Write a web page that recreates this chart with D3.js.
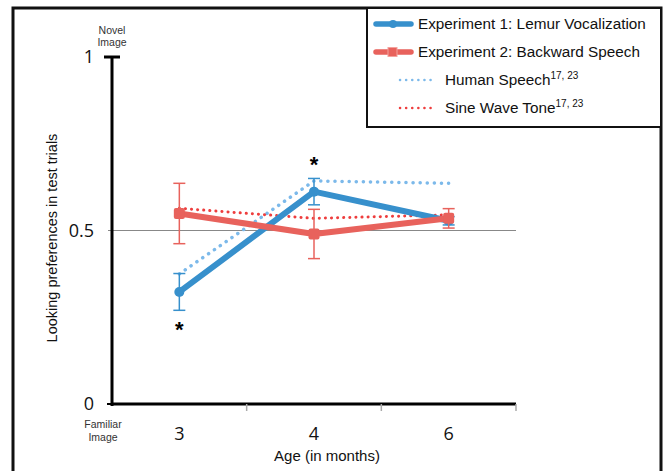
<!DOCTYPE html>
<meta charset="utf-8">
<head>
<title>Looking preferences</title>
<script src="https://cdn.jsdelivr.net/npm/d3@7/dist/d3.min.js"></script>
<style>
  body { margin: 0; background: #fff; }
  text { font-family: "Liberation Sans", Arial, sans-serif; }
</style>
</head>
<body>
<svg id="chart" width="668" height="471"></svg>
<script>
	// data
	var ages = ["3", "4", "6"];
	var exp1 = [0.323, 0.612, 0.528];      // lemur vocalization
	var exp1Err = [0.053, 0.038, 0.012];
	var exp2 = [0.549, 0.490, 0.535];      // backward speech
	var exp2Err = [0.087, 0.071, 0.028];
	var human = [0.375, 0.643, 0.636];     // human speech (refs 17, 23)
	var sine = [0.564, 0.535, 0.545];      // sine wave tone (refs 17, 23)
	var yTicks = [0, 0.5, 1];
	var stars = [{ age: "3", v: 0.22 }, { age: "4", v: 0.695 }];

	var blue = "#3790cc", red = "#e8625c", ltBlue = "#7cb9ea", dotRed = "#ee3d3d";

	var svg = d3.select("#chart");

	var x = d3.scaleBand().domain(ages).range([112, 516]);
	var y = d3.scaleLinear().domain([0, 1]).range([404, 57]);
	var cx = function (a) { return x(a) + x.bandwidth() / 2; };

	// outer frame
	svg.append("rect")
		.attr("x", 13).attr("y", 8)
		.attr("width", 648).attr("height", 480)
		.attr("fill", "none").attr("stroke", "#111").attr("stroke-width", 3);

	// chance line
	svg.append("line")
		.attr("x1", 108).attr("x2", 516)
		.attr("y1", y(0.5)).attr("y2", y(0.5))
		.attr("stroke", "#888").attr("stroke-width", 1.2);

	// axes
	svg.append("line")
		.attr("x1", x.range()[0]).attr("x2", x.range()[0])
		.attr("y1", y(1)).attr("y2", y(0) + 2)
		.attr("stroke", "#000").attr("stroke-width", 3);
	svg.append("line")
		.attr("x1", 104).attr("x2", 120)
		.attr("y1", y(1)).attr("y2", y(1))
		.attr("stroke", "#000").attr("stroke-width", 3);
	svg.append("line")
		.attr("x1", x.range()[0] - 1).attr("x2", x.range()[1])
		.attr("y1", y(0)).attr("y2", y(0))
		.attr("stroke", "#000").attr("stroke-width", 3);
	svg.append("line")
		.attr("x1", 107).attr("x2", 112)
		.attr("y1", y(0)).attr("y2", y(0))
		.attr("stroke", "#000").attr("stroke-width", 2);

	// small ticks at band edges
	svg.selectAll("line.xt")
		.data(ages)
		.enter().append("line")
		.attr("class", "xt")
		.attr("x1", function (d) { return x(d) + x.bandwidth(); })
		.attr("x2", function (d) { return x(d) + x.bandwidth(); })
		.attr("y1", y(0)).attr("y2", y(0) + 7)
		.attr("stroke", "#aaa").attr("stroke-width", 1.5);

	svg.selectAll("text.yt")
		.data(yTicks)
		.enter().append("text")
		.attr("class", "yt")
		.attr("x", 94)
		.attr("y", function (d) { return y(d) + 6; })
		.attr("text-anchor", "end")
		.attr("font-size", "18px")
		.attr("fill", "#111")
		.style("font-family", "'Open Sans', sans-serif")
		.text(function (d) { return d == 0.5 ? "0.5" : d; });

	svg.selectAll("text.xl")
		.data(ages)
		.enter().append("text")
		.attr("class", "xl")
		.attr("x", cx)
		.attr("y", 440)
		.attr("text-anchor", "middle")
		.attr("font-size", "18px")
		.attr("fill", "#111")
		.style("font-family", "'Open Sans', sans-serif")
		.text(function (d) { return d; });

	// small end labels
	[["Novel", 112, 34], ["Image", 112, 46], ["Familiar", 103, 428], ["Image", 103, 441]].forEach(function (t) {
		svg.append("text")
			.attr("x", t[1]).attr("y", t[2])
			.attr("text-anchor", "middle")
			.attr("font-size", "10.5px")
			.attr("fill", "#333")
			.text(t[0]);
	});

	svg.append("text")
		.attr("x", 327).attr("y", 461)
		.attr("text-anchor", "middle")
		.attr("font-size", "15px")
		.attr("fill", "#111")
		.text("Age (in months)");

	svg.append("text")
		.attr("transform", "translate(57,238) rotate(-90)")
		.attr("text-anchor", "middle")
		.attr("font-size", "14.5px")
		.attr("fill", "#111")
		.text("Looking preferences in test trials");

	var line = d3.line()
		.x(function (d, i) { return cx(ages[i]); })
		.y(function (d) { return y(d); });

	// dotted comparison series
	svg.append("path").datum(human)
		.attr("d", line)
		.attr("fill", "none").attr("stroke", ltBlue)
		.attr("stroke-width", 3.5).attr("stroke-linecap", "round")
		.attr("stroke-dasharray", "0.1 7");
	svg.append("path").datum(sine)
		.attr("d", line)
		.attr("fill", "none").attr("stroke", dotRed)
		.attr("stroke-width", 3).attr("stroke-linecap", "round")
		.attr("stroke-dasharray", "0.1 6");

	function series(vals, errs, color, shape) {
		var g = svg.append("g");
		g.append("path").datum(vals)
			.attr("d", line)
			.attr("fill", "none").attr("stroke", color)
			.attr("stroke-width", 6).attr("stroke-linejoin", "round");
		var eb = g.selectAll("g.eb")
			.data(vals)
			.enter().append("g")
			.attr("stroke", color).attr("stroke-width", 1.5);
		eb.append("line")
			.attr("x1", function (d, i) { return cx(ages[i]); })
			.attr("x2", function (d, i) { return cx(ages[i]); })
			.attr("y1", function (d, i) { return y(d + errs[i]); })
			.attr("y2", function (d, i) { return y(d - errs[i]); });
		[1, -1].forEach(function (s) {
			eb.append("line")
				.attr("x1", function (d, i) { return cx(ages[i]) - 6; })
				.attr("x2", function (d, i) { return cx(ages[i]) + 6; })
				.attr("y1", function (d, i) { return y(d + s * errs[i]); })
				.attr("y2", function (d, i) { return y(d + s * errs[i]); });
		});
		if (shape == "circle") {
			g.selectAll("circle")
				.data(vals)
				.enter().append("circle")
				.attr("cx", function (d, i) { return cx(ages[i]); })
				.attr("cy", y)
				.attr("r", 5)
				.attr("fill", color);
		} else {
			g.selectAll("rect.mk")
				.data(vals)
				.enter().append("rect")
				.attr("class", "mk")
				.attr("x", function (d, i) { return cx(ages[i]) - 5.5; })
				.attr("y", function (d) { return y(d) - 5.5; })
				.attr("width", 11).attr("height", 11)
				.attr("rx", 2)
				.attr("fill", color);
		}
	}
	series(exp1, exp1Err, blue, "circle");
	series(exp2, exp2Err, red, "square");

	// significance stars
	svg.selectAll("text.star")
		.data(stars)
		.enter().append("text")
		.attr("class", "star")
		.attr("x", function (d) { return cx(d.age); })
		.attr("y", function (d) { return y(d.v) + 9; })
		.attr("text-anchor", "middle")
		.attr("font-size", "22px")
		.attr("font-weight", "bold")
		.attr("fill", "#000")
		.text("*");

	// legend
	var leg = svg.append("g");
	leg.append("rect")
		.attr("x", 367).attr("y", 8)
		.attr("width", 294).attr("height", 119)
		.attr("fill", "#fff").attr("stroke", "#111").attr("stroke-width", 2);

	var legItems = [
		{ label: "Experiment 1: Lemur Vocalization", color: blue, kind: "circle", sup: "" },
		{ label: "Experiment 2: Backward Speech", color: red, kind: "square", sup: "" },
		{ label: "Human Speech", color: ltBlue, kind: "dot", sup: "17, 23" },
		{ label: "Sine Wave Tone", color: dotRed, kind: "dot", sup: "17, 23" }
	];
	var ly = d3.scalePoint().domain(d3.range(legItems.length)).range([24, 108]);

	legItems.forEach(function (d, i) {
		var yy = ly(i);
		if (d.kind == "dot") {
			leg.append("line")
				.attr("x1", 400).attr("x2", 436)
				.attr("y1", yy).attr("y2", yy)
				.attr("stroke", d.color).attr("stroke-width", 2.5)
				.attr("stroke-linecap", "round")
				.attr("stroke-dasharray", "0.1 6");
		} else {
			leg.append("line")
				.attr("x1", 376).attr("x2", 411)
				.attr("y1", yy).attr("y2", yy)
				.attr("stroke", d.color).attr("stroke-width", 5.5)
				.attr("stroke-linecap", "round");
			if (d.kind == "circle") {
				leg.append("circle").attr("cx", 393).attr("cy", yy).attr("r", 4).attr("fill", d.color);
			} else {
				leg.append("rect").attr("x", 388).attr("y", yy - 4.5).attr("width", 9).attr("height", 9)
					.attr("fill", d.color).attr("stroke", "#f4a29d").attr("stroke-width", 1);
			}
		}
		var t = leg.append("text")
			.attr("x", d.kind == "dot" ? 445 : 418)
			.attr("y", yy + 5)
			.attr("font-size", "15.3px")
			.attr("fill", "#111")
			.text(d.label);
		if (d.sup) {
			t.append("tspan")
				.attr("dy", -6)
				.attr("font-size", "10px")
				.text(d.sup);
		}
	});
</script>
</body>
